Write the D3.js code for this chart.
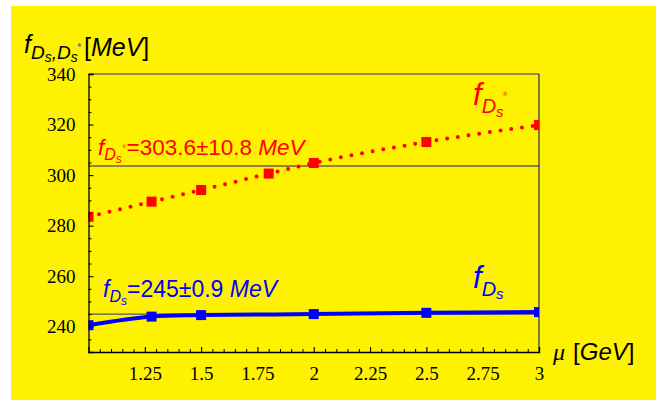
<!DOCTYPE html>
<html><head><meta charset="utf-8">
<script src="https://cdn.jsdelivr.net/npm/d3@7"></script>
<style>body{margin:0;background:#fff}svg{display:block}</style>
</head><body>
<svg id="c" width="669" height="403"></svg>
<script>
// ---- data ----
const muStar = [1, 1.28, 1.5, 1.8, 2, 2.5, 3];
const fDsStar = [283.5, 289.5, 294.1, 300.6, 304.8, 313.1, 319.8];
const muDs = [1, 1.28, 1.5, 2, 2.5, 3];
const fDs = [240.6, 244.0, 244.6, 245.0, 245.5, 245.8];
const refStar = 303.6;
const refDs = 245;
const xTicks = [1.25, 1.5, 1.75, 2, 2.25, 2.5, 2.75, 3];
const xTickLabels = ["1.25", "1.5", "1.75", "2", "2.25", "2.5", "2.75", "3"];
const yTicks = [240, 260, 280, 300, 320, 340];
const yTickLabels = ["240", "260", "280", "300", "320", "340"];

const svg = d3.select("#c");
const L = 88.5, R = 539, T = 74, B = 352;
const x = d3.scaleLinear().domain([1, 3]).range([L, R]);
const y = d3.scaleLinear().domain([230, 340]).range([B, T]);

// background
svg.append("rect").attr("x", 11).attr("y", 6).attr("width", 645).attr("height", 394).attr("fill", "#fff200");

svg.append("defs").append("clipPath").attr("id", "clip")
  .append("rect").attr("x", L).attr("y", T).attr("width", R - L).attr("height", B - T);

// frame top/right
svg.append("line").attr("x1", L).attr("x2", R).attr("y1", T).attr("y2", T).attr("stroke", "#2a2a6a").attr("stroke-width", 1.2);
svg.append("line").attr("x1", R).attr("x2", R).attr("y1", T).attr("y2", B).attr("stroke", "#2a2a6a").attr("stroke-width", 1.2);

// reference lines
svg.append("line").attr("x1", L).attr("x2", R).attr("y1", y(refStar)).attr("y2", y(refStar)).attr("stroke", "#1c1c7a").attr("stroke-width", 1.2);
svg.append("line").attr("x1", L).attr("x2", R).attr("y1", y(refDs)).attr("y2", y(refDs)).attr("stroke", "#55556a").attr("stroke-width", 1.2);

const g = svg.append("g").attr("clip-path", "url(#clip)");
const line = d3.line().curve(d3.curveMonotoneX).x(d => x(d[0])).y(d => y(d[1]));
const lineB = d3.line().curve(d3.curveCatmullRom.alpha(0.5)).x(d => x(d[0])).y(d => y(d[1]));
const starPts = muStar.map((m, i) => [m, fDsStar[i]]);
const dsPts = muDs.map((m, i) => [m, fDs[i]]);

g.append("path").attr("d", line(starPts)).attr("fill", "none").attr("stroke", "#ff0000")
  .attr("stroke-width", 4).attr("stroke-linecap", "round").attr("stroke-dasharray", "0 10.8");
g.append("path").attr("d", lineB(dsPts)).attr("fill", "none").attr("stroke", "#0000ff").attr("stroke-width", 4);

const sq = 10;
g.selectAll(".rs").data(starPts).enter().append("rect")
  .attr("x", d => x(d[0]) - sq / 2).attr("y", d => y(d[1]) - sq / 2).attr("width", sq).attr("height", sq).attr("fill", "#ff0000");
g.selectAll(".bs").data(dsPts).enter().append("rect")
  .attr("x", d => x(d[0]) - sq / 2).attr("y", d => y(d[1]) - sq / 2).attr("width", sq).attr("height", sq).attr("fill", "#0000ff");

// axes
const serif = "'Liberation Serif','Times New Roman',serif";
const sans = "'Liberation Sans',Arial,Helvetica,sans-serif";

const yMinor = d3.range(230, 341, 5).filter(v => v % 20 !== 0);
const xMinor = d3.range(1, 3.001, 0.05).map(v => +v.toFixed(2)).filter(v => Math.abs(v * 4 - Math.round(v * 4)) > 1e-6);

const ya = svg.append("g").attr("transform", `translate(${L},0)`)
  .call(d3.axisLeft(y).tickValues(yTicks).tickFormat((d, i) => yTickLabels[i]).tickSize(-5).tickPadding(13));
ya.attr("font-family", serif);
ya.select(".domain").attr("stroke", "#000").attr("stroke-width", 1.3);
ya.selectAll("text").style("font-family", serif).attr("font-size", 19).attr("fill", "#000");
ya.selectAll(".tick line").attr("stroke-width", 1.1);
svg.append("g").attr("transform", `translate(${L},0)`)
  .call(d3.axisLeft(y).tickValues(yMinor).tickFormat("").tickSize(-3)).call(s => s.select(".domain").remove());

const xa = svg.append("g").attr("transform", `translate(0,${B})`)
  .call(d3.axisBottom(x).tickValues(xTicks).tickFormat((d, i) => xTickLabels[i]).tickSize(-5).tickPadding(14));
xa.attr("font-family", serif);
xa.select(".domain").attr("stroke", "#000").attr("stroke-width", 1.3);
xa.selectAll("text").style("font-family", serif).attr("font-size", 19).attr("fill", "#000").attr("dy", "0.75em");
xa.selectAll(".tick line").attr("stroke-width", 1.1);
svg.append("g").attr("transform", `translate(0,${B})`)
  .call(d3.axisBottom(x).tickValues(xMinor).tickFormat("").tickSize(-3)).call(s => s.select(".domain").remove());

// y title
const yt = svg.append("text").attr("x", 24).attr("y", 53).attr("font-family", sans).attr("font-style", "italic").attr("fill", "#000");
yt.append("tspan").attr("font-size", 25).text("f");
yt.append("tspan").attr("font-size", 19).attr("dy", 6).text("D");
yt.append("tspan").attr("font-size", 14).attr("dy", 3).text("s");
yt.append("tspan").attr("font-size", 19).attr("dy", -3).text(",D");
yt.append("tspan").attr("font-size", 14).attr("dy", 3).text("s");
yt.append("tspan").attr("font-size", 11).attr("dy", -11).attr("dx", -1).attr("fill", "#555").text("*");
yt.append("tspan").attr("font-size", 25).attr("dy", 5).attr("dx", 3).attr("font-style", "normal").text("[");
yt.append("tspan").attr("font-size", 25).text("MeV");
yt.append("tspan").attr("font-size", 25).attr("font-style", "normal").text("]");

// x title
const xt = svg.append("text").attr("x", 553).attr("y", 360).attr("font-family", sans).attr("font-style", "italic").attr("fill", "#000").attr("font-size", 24);
xt.append("tspan").attr("font-family", serif).text("μ");
xt.append("tspan").attr("dx", 8).attr("font-style", "normal").text("[");
xt.append("tspan").text("GeV");
xt.append("tspan").attr("font-style", "normal").text("]");

// annotations
function annot(xp, yp, color, star, rest, fs) {
  const t = svg.append("text").attr("x", xp).attr("y", yp).attr("font-family", sans).attr("fill", color);
  t.append("tspan").attr("font-style", "italic").attr("font-size", fs).text("f");
  t.append("tspan").attr("font-style", "italic").attr("font-size", 16).attr("dy", 5).text("D");
  t.append("tspan").attr("font-style", "italic").attr("font-size", 12).attr("dy", 3).text("s");
  if (star) { t.append("tspan").attr("font-size", 12).attr("dy", -10).attr("fill", "#ff6a00").text("*"); }
  t.append("tspan").attr("font-size", fs).attr("dy", star ? 2 : -8).text(rest);
  t.append("tspan").attr("font-size", fs).attr("font-style", "italic").text(" MeV");
}
annot(98, 155, "#ff0000", true, "=303.6±10.8", 22.5);
annot(103, 297, "#0000ff", false, "=245±0.9", 23);

// big labels
const b1 = svg.append("text").attr("x", 473).attr("y", 105).attr("font-family", sans).attr("font-style", "italic").attr("fill", "#ff0000");
b1.append("tspan").attr("font-size", 31).text("f");
b1.append("tspan").attr("font-size", 20).attr("dy", 8).text("D");
b1.append("tspan").attr("font-size", 15).attr("dy", 4).text("s");
b1.append("tspan").attr("font-size", 15).attr("dy", -16).attr("dx", -2).attr("fill", "#ff6a00").text("*");

const b2 = svg.append("text").attr("x", 473).attr("y", 288).attr("font-family", sans).attr("font-style", "italic").attr("fill", "#0000ff");
b2.append("tspan").attr("font-size", 31).text("f");
b2.append("tspan").attr("font-size", 20).attr("dy", 8).text("D");
b2.append("tspan").attr("font-size", 15).attr("dy", 3).text("s");
</script>
</body></html>
